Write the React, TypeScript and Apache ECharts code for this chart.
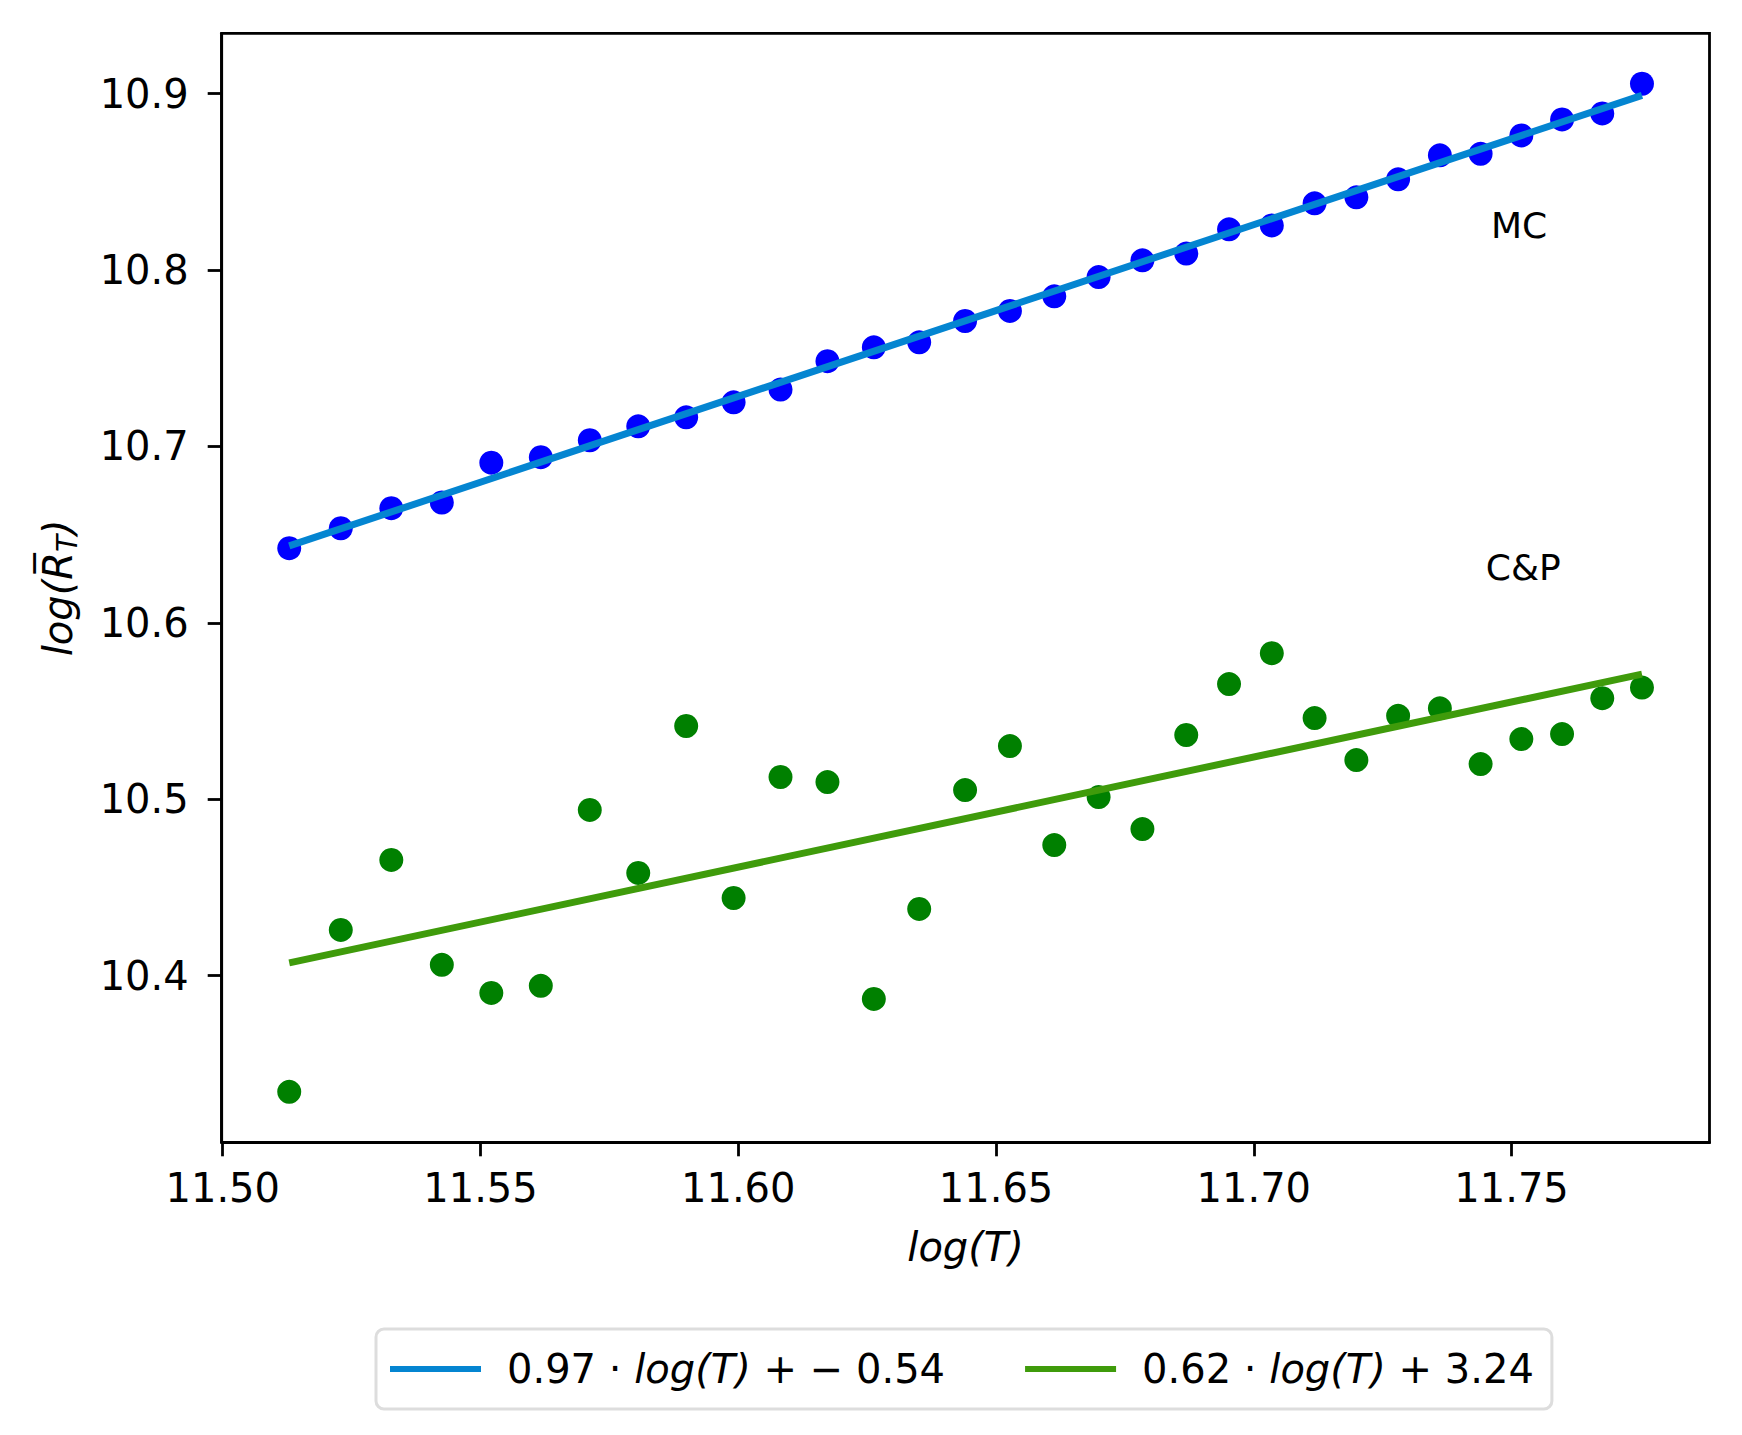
import React, { useEffect, useRef } from "react";
import * as echarts from "echarts";

// x values: log(T)
const logT = [
  11.5129, 11.5229, 11.5327, 11.5425, 11.5521, 11.5617, 11.5712, 11.5806, 11.5899, 11.5991,
  11.6082, 11.6173, 11.6263, 11.6351, 11.644, 11.6527, 11.6613, 11.6699, 11.6784, 11.6869,
  11.6952, 11.7035, 11.7118, 11.7199, 11.728, 11.7361, 11.744, 11.7519, 11.7598, 11.7676, 11.7753,
];
// MC points
const mcValues = [
  10.6423, 10.6536, 10.665, 10.6682, 10.6908, 10.6939, 10.7035, 10.7114, 10.7165, 10.725,
  10.7322, 10.7483, 10.7562, 10.759, 10.7711, 10.7768, 10.7851, 10.796, 10.8055, 10.8093,
  10.8231, 10.8253, 10.8378, 10.8412, 10.8514, 10.865, 10.8659, 10.8763, 10.8854, 10.8888, 10.9056,
];
// C&P points
const cpValues = [
  10.3341, 10.4259, 10.4656, 10.4061, 10.3902, 10.3942, 10.4939, 10.4582, 10.5415, 10.444,
  10.5126, 10.5097, 10.3868, 10.4378, 10.5052, 10.5301, 10.474, 10.5012, 10.4831, 10.5364,
  10.5653, 10.5828, 10.546, 10.5222, 10.5473, 10.5515, 10.5199, 10.5341, 10.5369, 10.5573, 10.5633,
];
// fitted lines (end points)
const fitX = [11.5129, 11.7753];
const mcFit = [10.6436, 10.899];
const cpFit = [10.4072, 10.5709];

const xTicks = [11.5, 11.55, 11.6, 11.65, 11.7, 11.75];
const yTicks = [10.4, 10.5, 10.6, 10.7, 10.8, 10.9];
const xRange = [11.4998, 11.7884];
const yRange = [10.3055, 10.9342];

const legendNames = ["0.97 · log(T) + − 0.54", "0.62 · log(T) + 3.24"];
const annotationText = ["MC", "C&P"];
const annotationX = [11.746, 11.745];
const annotationY = [10.818, 10.624];

const FONT = "DejaVu Sans";

export default function App() {
  const ref = useRef<HTMLDivElement>(null);
  useEffect(() => {
    if (!ref.current) return;
    const chart = echarts.init(ref.current, undefined, { renderer: "svg" });
    const option: any = {
      animation: false,
      backgroundColor: "#ffffff",
      textStyle: { fontFamily: FONT },
      grid: {
        left: 221.7,
        top: 33.3,
        right: 32.5,
        bottom: 292.7,
        show: true,
        borderColor: "#000000",
        borderWidth: 2.8,
        backgroundColor: "transparent",
      },
      xAxis: {
        type: "value",
        min: xRange[0],
        max: xRange[1],
        name: "log(T)",
        nameLocation: "middle",
        nameGap: 85,
        nameTextStyle: { fontFamily: FONT, fontSize: 40, fontStyle: "italic", color: "#000" },
        axisLine: { show: true, onZero: false, lineStyle: { color: "#000", width: 2.8 } },
        axisTick: { show: true, length: 14, customValues: xTicks, lineStyle: { color: "#000", width: 2.8 } },
        axisLabel: {
          show: true,
          customValues: xTicks,
          margin: 26,
          fontFamily: FONT,
          fontSize: 40,
          color: "#000",
          formatter: (v: number) => v.toFixed(2),
        },
        splitLine: { show: false },
      },
      yAxis: {
        type: "value",
        min: yRange[0],
        max: yRange[1],
        name: "{i|log(}{r|R\u0305}{s|T}{i|)}",
        nameLocation: "middle",
        nameGap: 140,
        nameTextStyle: {
          fontFamily: FONT,
          fontSize: 40,
          color: "#000",
          rich: {
            i: { fontFamily: FONT, fontSize: 40, fontStyle: "italic", lineHeight: 48, verticalAlign: "middle" },
            r: { fontFamily: FONT, fontSize: 40, fontStyle: "italic", lineHeight: 48, verticalAlign: "middle" },
            s: { fontFamily: FONT, fontSize: 28, fontStyle: "italic", lineHeight: 30, verticalAlign: "bottom" },
          },
        },
        axisLine: { show: true, onZero: false, lineStyle: { color: "#000", width: 2.8 } },
        axisTick: { show: true, length: 14, customValues: yTicks, lineStyle: { color: "#000", width: 2.8 } },
        axisLabel: {
          show: true,
          customValues: yTicks,
          margin: 33,
          fontFamily: FONT,
          fontSize: 40,
          color: "#000",
          formatter: (v: number) => v.toFixed(1),
        },
        splitLine: { show: false },
      },
      legend: {
        show: true,
        data: legendNames,
        left: 376,
        top: 1329,
        orient: "horizontal",
        icon: "rect",
        itemWidth: 91,
        itemHeight: 6,
        itemGap: 80,
        padding: [16, 18, 16, 14],
        backgroundColor: "#ffffff",
        borderColor: "#dddddd",
        borderWidth: 3,
        borderRadius: 8,
        formatter: (name: string) => "{g| }" + name.replace("log(T)", "{i|log(T)}"),
        textStyle: {
          fontFamily: FONT,
          fontSize: 40,
          color: "#000",
          lineHeight: 48,
          rich: {
            g: { width: 21, fontSize: 40, lineHeight: 48 },
            i: { fontFamily: FONT, fontSize: 40, fontStyle: "italic", lineHeight: 48, color: "#000" },
          },
        },
      },
      series: [
        {
          type: "scatter",
          name: "MC points",
          symbol: "circle",
          symbolSize: 24,
          itemStyle: { color: "#0000ff", opacity: 1 },
          data: logT.map((x, i) => [x, mcValues[i]]),
          z: 2,
        },
        {
          type: "scatter",
          name: "C&P points",
          symbol: "circle",
          symbolSize: 24,
          itemStyle: { color: "#008000", opacity: 1 },
          data: logT.map((x, i) => [x, cpValues[i]]),
          z: 2,
        },
        {
          type: "line",
          name: legendNames[0],
          showSymbol: false,
          symbol: "none",
          lineStyle: { color: "#0485d1", width: 7, cap: "butt" },
          itemStyle: { color: "#0485d1" },
          data: fitX.map((x, i) => [x, mcFit[i]]),
          z: 3,
        },
        {
          type: "line",
          name: legendNames[1],
          showSymbol: false,
          symbol: "none",
          lineStyle: { color: "#3f9b0b", width: 7, cap: "butt" },
          itemStyle: { color: "#3f9b0b" },
          data: fitX.map((x, i) => [x, cpFit[i]]),
          z: 3,
        },
      ],
    };
    chart.setOption(option);
    const graphics = annotationText.map((t, i) => {
      const p = chart.convertToPixel({ gridIndex: 0 }, [annotationX[i], annotationY[i]]) as number[];
      return {
        type: "text",
        x: p[0],
        y: p[1] - 12.5,
        style: {
          text: t,
          fontFamily: FONT,
          fontSize: 36,
          fill: "#000",
          textAlign: "left",
          textVerticalAlign: "middle",
        },
        z: 10,
      };
    });
    chart.setOption({ graphic: graphics });
    return () => chart.dispose();
  }, []);
  return (
    <div
      ref={ref}
      style={{ position: "absolute", left: 0, top: 0, width: 1742, height: 1435, background: "#fff" }}
    />
  );
}
